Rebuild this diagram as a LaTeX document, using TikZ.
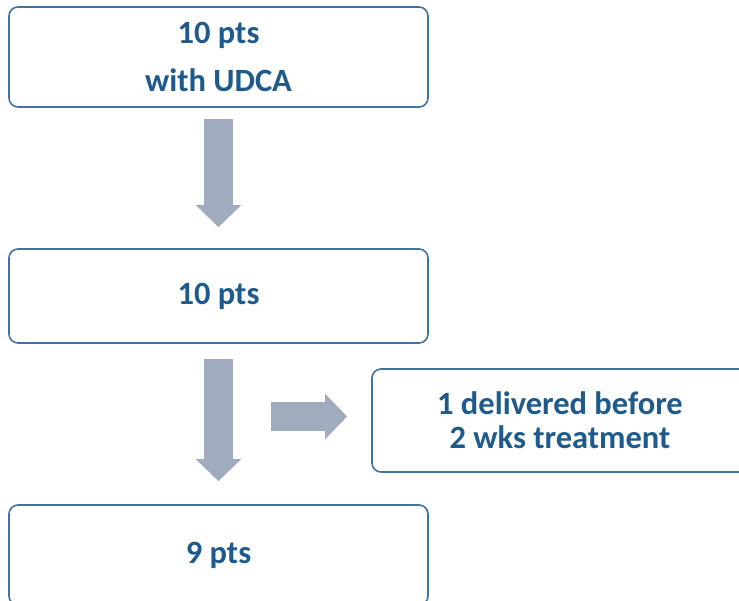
\documentclass[tikz,border=0pt]{standalone}
\usepackage{fontspec}
\setmainfont{Carlito}
\usetikzlibrary{arrows.meta}

\definecolor{boxblue}{HTML}{41719C}
\definecolor{textblue}{HTML}{1F5A8C}
\definecolor{arrowgray}{HTML}{A0ACBD}

\tikzset{
  box/.style={draw=boxblue, line width=1.6pt, rounded corners=9pt,
    text=textblue, font=\bfseries\fontsize{32.5}{48}\selectfont, align=center,
    inner sep=0pt},
  blockarrow/.style={draw=arrowgray, line width=29pt,
    -{Triangle[width=44pt, length=22pt]}}
}

\begin{document}
\begin{tikzpicture}[x=1pt, y=-1pt]

    % Рамка картинки
    \useasboundingbox (0,0) rectangle (739,600);

    % Исходная группа
    \node[box, minimum width=419pt, minimum height=100pt] (start) at (218.5,57)
        {10 pts\\with UDCA};

    % После лечения
    \node[box, minimum width=419pt, minimum height=94pt] (mid) at (218.5,296)
        {10 pts};

    % Выбывшие
    \node[box, minimum width=376pt, minimum height=103pt,
          font=\bfseries\fontsize{32.5}{34}\selectfont] (loss) at (560,420.5)
        {1 delivered before\\2 wks treatment};

    % Итог
    \node[box, minimum width=419pt, minimum height=100pt] (final) at (218.5,555)
        {9 pts};

    % Стрелки
    \draw[blockarrow] ([yshift=-11pt]start.south) -- ([yshift=21pt]mid.north);
    \draw[blockarrow] ([yshift=-15pt]mid.south) -- ([yshift=23pt]final.north);
    \draw[blockarrow] ([xshift=-100pt, yshift=4pt]loss.west)
        -- ([xshift=-24pt, yshift=4pt]loss.west);
\end{tikzpicture}
\end{document}
